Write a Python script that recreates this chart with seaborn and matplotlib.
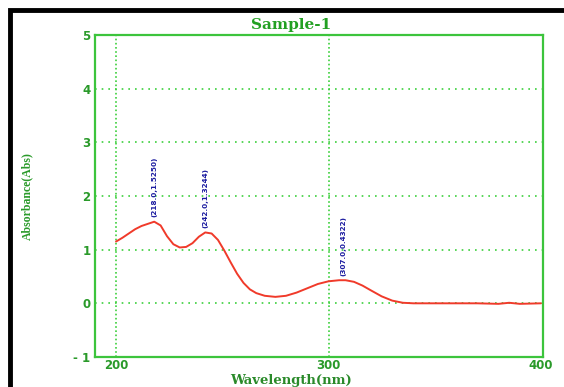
import numpy as np
import pandas as pd
import seaborn as sns
import matplotlib
matplotlib.use("Agg")
import matplotlib.pyplot as plt
from matplotlib.patches import Rectangle

wavelength = [200, 203, 206, 209, 212, 215, 218, 221, 224, 227, 230, 233, 236, 239, 242,
              245, 248, 251, 254, 257, 260, 263, 266, 270, 275, 280, 285, 290, 295, 300,
              305, 308, 312, 316, 320, 325, 330, 335, 340, 350, 360, 370, 380, 385, 390, 400]
absorbance = [1.15, 1.22, 1.30, 1.38, 1.44, 1.48, 1.52, 1.45, 1.25, 1.10, 1.04, 1.05, 1.12, 1.24, 1.32,
              1.30, 1.18, 0.98, 0.76, 0.55, 0.38, 0.26, 0.19, 0.14, 0.12, 0.14, 0.20, 0.28, 0.36, 0.41,
              0.43, 0.43, 0.40, 0.33, 0.24, 0.13, 0.05, 0.01, 0.0, 0.0, 0.0, 0.0, -0.01, 0.01, -0.01, 0.0]
peak_x = [218.0, 242.0, 307.0]
peak_y = [1.52, 1.32, 0.43]
peak_labels = ["(218.0,1.5250)", "(242.0,1.3244)", "(307.0,0.4322)"]
xticks = [200, 300, 400]
yticks = [-1, 0, 1, 2, 3, 4, 5]
ytick_labels = ["- 1", "0", "1", "2", "3", "4", "5"]

sns.set_style("white")
df = pd.DataFrame({"Wavelength": wavelength, "Absorbance": absorbance})

fig = plt.figure(figsize=(5.64, 3.87), dpi=100)
ax = fig.add_axes([0.168, 0.0775, 0.795, 0.8325])
sns.lineplot(data=df, x="Wavelength", y="Absorbance", ax=ax, color="#f03a2a", linewidth=1.4)

ax.set_xlim(190, 401)
ax.set_ylim(-1, 5)
ax.set_xticks(xticks)
ax.set_yticks(yticks)
ax.set_yticklabels(ytick_labels)
tick_green = "#2a9a2a"
for s in ax.spines.values():
    s.set_color("#3cc43c")
    s.set_linewidth(1.6)
ax.tick_params(length=0, labelsize=8.5, colors=tick_green)
ax.tick_params(axis="y", pad=3)
ax.tick_params(axis="x", pad=1.5)
for lab in ax.get_xticklabels() + ax.get_yticklabels():
    lab.set_fontweight("bold")
for xv in [200, 300]:
    ax.axvline(xv, color="#3cd03c", linestyle=(0, (1, 1.5)), linewidth=1.2, zorder=0)
for yv in [0, 1, 2, 3, 4]:
    ax.axhline(yv, color="#3cd03c", linestyle=(0, (1, 3)), linewidth=1.2, zorder=0)

ax.set_title("Sample-1", fontsize=11, fontweight="bold", color="#22a022", family="DejaVu Serif",
             x=0.4375, pad=4)
ax.set_xlabel("Wavelength(nm)", fontsize=9.5, fontweight="bold", color="#2a8a2a", family="DejaVu Serif")
ax.xaxis.set_label_coords(0.4375, -0.053)
ax.set_ylabel("Absorbance(Abs)", fontsize=8.5, fontweight="bold", color="#2a9a2a", family="Liberation Serif", labelpad=29)

for px, py, lab in zip(peak_x, peak_y, peak_labels):
    ax.text(px, py + 0.08, lab, rotation=90, ha="center", va="bottom", fontsize=5.2,
            color="#1c1ca0", fontweight="bold", family="Liberation Sans Narrow")

fig.patches.append(Rectangle((10 / 564, -0.1), 1.2, 1 - 10 / 387 + 0.1, transform=fig.transFigure,
                             fill=False, edgecolor="black", linewidth=3.5))

fig.savefig("out.png", dpi=100)
